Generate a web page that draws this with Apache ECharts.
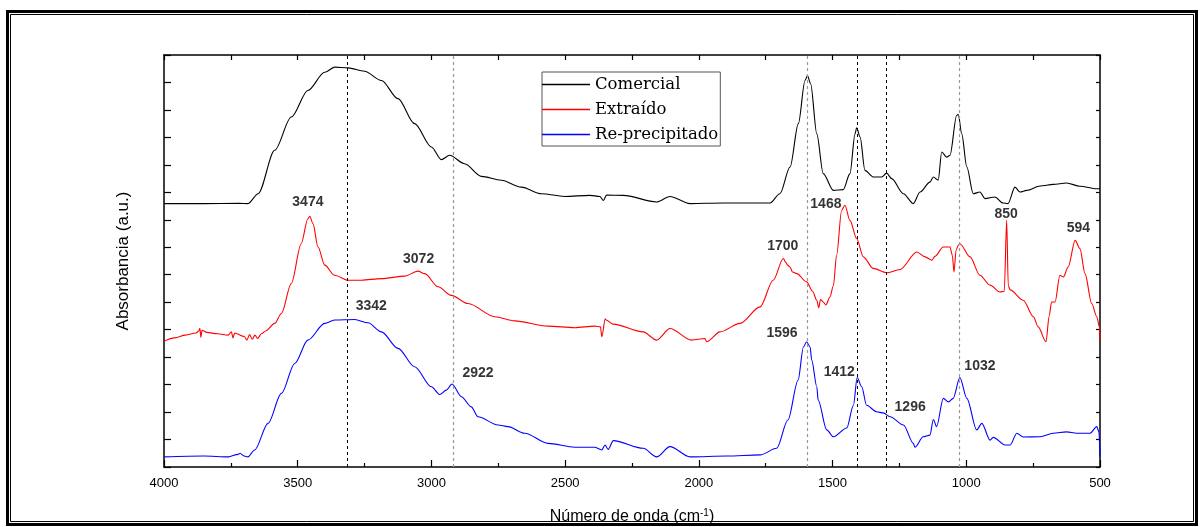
<!DOCTYPE html>
<html><head><meta charset="utf-8">
<script src="https://cdn.jsdelivr.net/npm/echarts@6/dist/echarts.min.js"></script>
<style>html,body{margin:0;padding:0;background:#fff}#c{width:1204px;height:527px}</style>
</head><body><div id="c"></div>
<script>
// ---- data (wavenumber cm-1, absorbance a.u.) ----
const seriesNames = ['Comercial', 'Extraído', 'Re-precipitado'];

const comercial = [[4000,9.59],[3850,9.59],[3720,9.60],[3686,9.59],[3648,9.95],[3586,11.53],[3524,12.74],[3462,13.71],[3399,14.37],[3362,14.56],[3312,14.53],[3250,14.41],[3187,14.07],[3125,13.41],[3063,12.50],[3000,11.65],[2963,11.19],[2932,11.35],[2876,11.04],[2813,10.58],[2739,10.44],[2664,10.19],[2589,9.95],[2502,9.85],[2407,9.89],[2370,9.85],[2357,9.70],[2345,9.90],[2283,9.89],[2158,9.65],[2108,9.85],[2033,9.59],[1909,9.61],[1734,9.61],[1697,9.95],[1659,10.92],[1628,12.50],[1603,14.07],[1594,14.25],[1582,13.95],[1559,12.13],[1535,10.68],[1497,10.07],[1460,10.10],[1435,10.68],[1416,12.13],[1410,12.35],[1397,12.01],[1379,10.80],[1348,10.56],[1316,10.56],[1298,10.70],[1279,10.50],[1235,9.95],[1198,9.59],[1173,10.01],[1136,10.37],[1123,10.56],[1105,10.44],[1092,11.47],[1073,11.28],[1061,11.35],[1036,12.80],[1030,12.84],[1017,12.13],[998,10.92],[974,9.95],[949,10.01],[930,9.77],[893,9.83],[862,9.61],[844,9.59],[818,10.19],[799,10.01],[774,10.07],[724,10.23],[675,10.29],[625,10.34],[575,10.22],[512,10.13],[500,10.13]];

const extraido = [[4000,4.58],[3960,4.70],[3920,4.80],[3880,4.88],[3870,4.95],[3866,5.05],[3862,4.72],[3858,4.98],[3840,4.90],[3800,4.85],[3760,4.80],[3748,4.92],[3742,4.70],[3736,4.88],[3700,4.75],[3690,4.62],[3680,4.82],[3670,4.65],[3660,4.80],[3650,4.68],[3636,4.85],[3620,4.95],[3586,5.23],[3561,5.59],[3524,6.68],[3487,8.13],[3462,9.04],[3455,9.13],[3443,8.86],[3424,8.01],[3399,7.35],[3362,6.98],[3312,6.80],[3262,6.80],[3187,6.86],[3100,6.95],[3050,7.13],[3025,7.04],[2975,6.56],[2926,6.25],[2863,5.95],[2763,5.47],[2689,5.32],[2564,5.13],[2464,5.07],[2390,5.13],[2368,5.10],[2363,4.74],[2350,5.40],[2347,5.35],[2320,5.20],[2208,4.92],[2158,4.62],[2108,5.04],[2027,4.62],[1977,4.68],[1971,4.56],[1921,4.92],[1846,5.23],[1771,5.83],[1722,6.80],[1684,7.59],[1675,7.45],[1668,7.35],[1659,7.28],[1650,7.10],[1634,7.04],[1597,6.74],[1575,6.40],[1559,6.07],[1552,5.80],[1545,6.10],[1535,6.01],[1525,5.90],[1510,6.19],[1497,6.60],[1485,7.71],[1466,9.35],[1454,9.53],[1435,8.98],[1410,8.32],[1385,7.65],[1348,7.23],[1298,7.07],[1248,7.19],[1185,7.83],[1154,7.65],[1129,7.53],[1117,7.67],[1086,8.01],[1061,8.01],[1052,7.70],[1046,7.10],[1038,7.90],[1030,8.07],[1024,8.13],[986,7.65],[949,6.98],[911,6.62],[874,6.37],[858,6.40],[849,8.98],[843,6.60],[836,6.45],[787,6.07],[749,5.47],[731,5.10],[702,4.56],[690,5.50],[681,6.01],[668,6.01],[650,6.98],[637,6.92],[619,7.28],[593,8.25],[575,7.95],[556,7.04],[531,5.95],[512,5.47],[502,5.10],[500,4.62]];

const reprecipitado = [[4000,0.37],[3850,0.40],[3760,0.37],[3723,0.46],[3716,0.50],[3700,0.40],[3686,0.37],[3661,0.62],[3611,1.59],[3561,2.68],[3511,3.77],[3462,4.62],[3399,5.23],[3362,5.35],[3287,5.37],[3237,5.25],[3187,4.92],[3125,4.32],[3063,3.65],[3000,2.92],[2969,2.64],[2944,2.80],[2923,3.02],[2888,2.56],[2851,2.19],[2826,1.83],[2751,1.53],[2714,1.47],[2651,1.23],[2564,0.86],[2464,0.72],[2390,0.72],[2363,0.62],[2351,0.80],[2339,0.64],[2320,0.96],[2208,0.68],[2158,0.37],[2108,0.74],[2033,0.37],[1896,0.40],[1771,0.44],[1709,0.68],[1667,1.71],[1629,3.16],[1609,4.37],[1597,4.56],[1584,4.37],[1578,3.89],[1559,2.92],[1554,2.44],[1522,1.35],[1497,1.10],[1447,1.42],[1422,2.25],[1408,3.26],[1391,2.92],[1373,2.25],[1335,2.01],[1310,1.97],[1285,1.83],[1235,1.53],[1198,0.86],[1192,0.72],[1161,1.10],[1136,1.16],[1123,1.73],[1111,1.47],[1086,2.50],[1067,2.37],[1049,2.50],[1024,3.26],[998,2.50],[961,1.35],[942,1.59],[911,0.98],[899,1.08],[855,0.80],[836,0.80],[811,1.23],[787,1.09],[724,1.10],[675,1.23],[625,1.28],[587,1.23],[537,1.23],[512,1.47],[504,1.28],[500,0.37]];

// peak annotations: [text, wavenumber, absorbance]
const peakLabels = [['3474',3462,9.65],['3072',3048,7.55],['3342',3225,5.85],['2922',2826,3.41],['1700',1686,8.04],['1596',1689,4.86],['1468',1525,9.56],['1412',1475,3.47],['1296',1210,2.19],['1032',949,3.67],['850',851,9.20],['594',581,8.68]];

// vertical reference lines (cm-1)
const blackRefLines = [3316, 1407, 1299];
const grayRefLines = [2918, 1596, 1025];

// ---- chart ----
const sans = 'Liberation Sans, Arial, sans-serif';
const chart = echarts.init(document.getElementById('c'), null, {renderer: 'canvas'});
const axisLineStyle = {color: '#000', width: 1.5};
const option = {
  animation: false,
  backgroundColor: '#fff',
  grid: {left: 164, right: 104, top: 55, bottom: 60, containLabel: false, outerBoundsMode: 'none'},
  legend: {
    data: seriesNames, orient: 'vertical', left: 542, top: 72,
    icon: 'rect', itemWidth: 48, itemHeight: 1.5, itemGap: 8, padding: [4, 2, 3, 0],
    borderColor: '#555', borderWidth: 1,
    textStyle: {fontFamily: 'DejaVu Serif, serif', fontSize: 16.5, color: '#000'}
  },
  graphic: [
    {type: 'rect', silent: true, shape: {x: 7.5, y: 11.5, width: 1189, height: 513}, style: {fill: null, stroke: '#000', lineWidth: 3}},
    {type: 'rect', silent: true, shape: {x: 10.5, y: 14.5, width: 1183, height: 507}, style: {fill: null, stroke: '#000', lineWidth: 1}}
  ],
  xAxis: [
    {
      type: 'value', min: 500, max: 4000, interval: 500, inverse: true, position: 'bottom',
      axisLine: {onZero: false, lineStyle: axisLineStyle},
      axisTick: {inside: true, length: 7, lineStyle: {color: '#000', width: 1.2}},
      minorTick: {show: true, splitNumber: 2, length: 4, lineStyle: {color: '#000', width: 1.2}},
      splitLine: {show: false},
      axisLabel: {color: '#000', fontSize: 13, fontFamily: sans, margin: 10, formatter: v => String(v)},
      name: 'Número de onda (cm{s|-1})', nameLocation: 'middle', nameGap: 41,
      nameTextStyle: {color: '#000', fontSize: 16, fontFamily: sans,
        rich: {s: {fontSize: 10, fontFamily: sans, color: '#000', verticalAlign: 'top', padding: [0, 0, 8, 0]}}}
    },
    {
      type: 'value', min: 500, max: 4000, interval: 250, inverse: true, position: 'top',
      axisLine: {onZero: false, lineStyle: axisLineStyle},
      axisTick: {inside: true, length: 5, lineStyle: {color: '#000', width: 1.2}},
      splitLine: {show: false}, axisLabel: {show: false}
    }
  ],
  yAxis: [
    {
      type: 'value', min: 0, max: 15, interval: 1, position: 'left',
      axisLine: {show: true, onZero: false, lineStyle: axisLineStyle},
      axisTick: {show: true, inside: true, length: 7, lineStyle: {color: '#000', width: 1.2}},
      splitLine: {show: false}, axisLabel: {show: false},
      name: 'Absorbancia (a.u.)', nameLocation: 'middle', nameGap: 32,
      nameTextStyle: {color: '#000', fontSize: 17, fontFamily: sans}
    },
    {
      type: 'value', min: 0, max: 15, interval: 1, position: 'right',
      axisLine: {show: true, onZero: false, lineStyle: axisLineStyle},
      axisTick: {show: true, inside: true, length: 4, lineStyle: {color: '#000', width: 1.2}},
      splitLine: {show: false}, axisLabel: {show: false}
    }
  ],
  series: [
    {
      name: 'Comercial', type: 'line', data: comercial, symbol: 'none', smooth: 0.3, smoothMonotone: 'x',
      lineStyle: {color: '#000', width: 1.1}, itemStyle: {color: '#000'}, z: 3,
      markLine: {
        silent: true, symbol: 'none', label: {show: false}, animation: false,
        data: blackRefLines.map(v => ({xAxis: v, lineStyle: {color: '#000', type: [3, 3], width: 1}}))
          .concat(grayRefLines.map(v => ({xAxis: v, lineStyle: {color: '#999', type: [3, 3], width: 1.2}})))
      }
    },
    {
      name: 'Extraído', type: 'line', data: extraido, symbol: 'none', smooth: 0.3, smoothMonotone: 'x',
      lineStyle: {color: '#ff0000', width: 1.1}, itemStyle: {color: '#ff0000'}, z: 3
    },
    {
      name: 'Re-precipitado', type: 'line', data: reprecipitado, symbol: 'none', smooth: 0.3, smoothMonotone: 'x',
      lineStyle: {color: '#0000ff', width: 1.1}, itemStyle: {color: '#0000ff'}, z: 3
    },
    {
      name: 'peaks', type: 'scatter', data: peakLabels.map(p => [p[1], p[2], p[0]]),
      symbolSize: 1, itemStyle: {color: 'rgba(0,0,0,0)'}, silent: true, z: 4,
      label: {show: true, position: 'inside', formatter: p => p.data[2], color: '#000',
        textBorderWidth: 0, fontSize: 14, fontWeight: 'bold', fontFamily: sans}
    }
  ]
};
chart.setOption(option);
</script>
</body></html>
